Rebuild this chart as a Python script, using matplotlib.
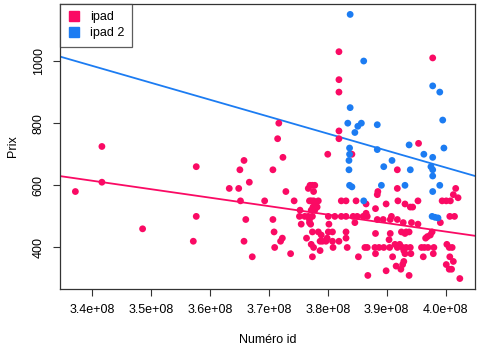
import numpy as np
import matplotlib
matplotlib.use("Agg")
import matplotlib.pyplot as plt
from matplotlib.lines import Line2D

plt.rcParams['font.family'] = ['Liberation Sans', 'DejaVu Sans']

# ---------------------------------------------------------------------------
# data (id in millions, price)
# ---------------------------------------------------------------------------
ipad_id = [
    337.2, 341.7, 341.7, 348.6, 357.7, 357.7, 357.2,
    365.8, 365.1, 370.7, 372.4, 371.7, 371.5, 363.3,
    364.9, 366.7, 365.2, 366.1, 365.8, 367.2, 369.3, 370.7, 370.9, 371.0,
    372.3, 372.0, 372.9, 373.7, 374.3, 375.3, 375.2, 375.5, 376.1, 376.4,
    376.7, 376.7, 377.0, 377.4, 377.8, 377.6, 376.9, 377.2, 377.6, 378.4,
    378.0, 377.5, 378.2, 377.8, 377.2, 377.4, 376.9, 376.9, 377.1, 377.4,
    378.4, 378.9, 377.2, 377.6, 377.4, 378.7, 378.7, 379.1, 379.9, 379.7,
    380.8, 380.1, 380.1, 380.8, 380.2, 381.2, 380.9, 381.9, 382.3, 383.1,
    382.3, 383.1, 383.1, 383.1, 383.3, 384.3, 385.0, 384.6, 384.8, 385.2,
    386.0, 386.5, 386.7, 386.5, 386.3, 386.7, 386.8, 388.1, 388.1, 388.1,
    388.0, 388.5, 388.4, 388.4, 388.7, 389.4, 389.5, 389.9, 389.9, 390.4,
    390.5, 390.8, 390.6, 390.6, 391.0, 391.4, 391.8, 392.2, 391.8, 391.9,
    391.8, 391.6, 392.4, 392.5, 392.7, 392.7, 392.9, 392.9, 393.1, 393.1,
    393.3, 393.8, 393.1, 392.8, 393.3, 394.0, 394.4, 394.0, 394.1, 393.8,
    394.2, 395.3, 395.3, 395.9, 396.2, 396.4, 397.0, 396.6, 396.9, 397.4,
    397.7, 398.0, 397.9, 399.1, 399.4, 400.1, 400.8, 400.7, 401.5, 401.7,
    401.3, 402.1, 400.2, 400.6, 401.1, 400.7, 400.1, 400.6, 401.3, 401.0,
    402.4,
    380.0, 384.1, 381.9, 381.9, 381.9, 381.9, 381.9, 391.8, 395.4, 397.8,
]
ipad_prix = [
    580, 725, 610, 460, 660, 500, 420,
    680, 650, 650, 690, 800, 750, 590,
    590, 610, 550, 490, 420, 370, 550, 490, 450, 400,
    430, 420, 580, 380, 550, 520, 500, 475, 500, 430,
    500, 590, 600, 600, 600, 580, 550, 550, 550, 550,
    540, 530, 530, 520, 520, 500, 490, 480, 475, 450,
    450, 440, 410, 400, 370, 390, 420, 420, 430, 420,
    420, 500, 450, 450, 475, 500, 400, 420, 550, 550,
    500, 500, 450, 430, 400, 500, 500, 480, 550, 370,
    500, 510, 500, 540, 400, 400, 310, 525, 445, 380,
    400, 580, 570, 490, 400, 490, 400, 540, 325, 425,
    400, 500, 490, 445, 370, 410, 400, 410, 590, 550,
    490, 340, 330, 450, 400, 345, 355, 390, 380, 540,
    450, 450, 445, 480, 400, 530, 530, 400, 380, 310,
    480, 550, 475, 400, 370, 400, 400, 430, 435, 440,
    450, 400, 380, 480, 550, 550, 550, 500, 500, 590,
    570, 560, 410, 400, 400, 370, 345, 330, 355, 330,
    300,
    700, 700, 1030, 940, 900, 775, 750, 650, 735, 1010,
]

ipad2_id = [
    383.8, 386.1, 383.8, 383.4, 385.1, 385.7, 388.4, 384.6, 383.7, 383.7,
    383.6, 383.6, 383.7, 384.1, 388.4, 389.5, 390.9, 394.0, 393.8, 396.3,
    397.8, 397.5, 397.8, 397.8, 397.8, 399.0, 399.5, 399.7, 399.0, 389.1,
    393.1, 397.8, 397.7, 398.2, 398.7, 386.1,
]
ipad2_prix = [
    1150, 1000, 850, 800, 790, 800, 795, 770, 720, 700,
    680, 650, 600, 595, 715, 660, 680, 650, 730, 700,
    690, 660, 650, 630, 920, 900, 810, 720, 600, 600,
    600, 580, 500, 497, 495, 550,
]

# regression lines: value at id = 370 M, and slope per M
fit_at_370 = [533, 821]
fit_slope = [-2.73, -5.46]

series = ['ipad', 'ipad 2']
colors = ['#FA0A64', '#1C7CF2']
xticks = [340, 350, 360, 370, 380, 390, 400]
xticklabels = ['3.4e+08', '3.5e+08', '3.6e+08', '3.7e+08', '3.8e+08', '3.9e+08', '4.0e+08']
yticks = [400, 600, 800, 1000]

# ---------------------------------------------------------------------------
# plot
# ---------------------------------------------------------------------------
fig = plt.figure(figsize=(4.8, 3.5), dpi=100)
ax = fig.add_axes([0.125, 0.174, 0.865, 0.815])

groups = [(ipad_id, ipad_prix), (ipad2_id, ipad2_prix)]
for (xs, ys), c in zip(groups, colors):
    ax.scatter(xs, ys, s=24, color=c, edgecolors='none', zorder=3)

all_x = np.array(ipad_id + ipad2_id)
all_y = np.array(ipad_prix + ipad2_prix)
xspan = all_x.max() - all_x.min()
yspan = all_y.max() - all_y.min()
ax.set_xlim(all_x.min() - 0.04 * xspan, all_x.max() + 0.04 * xspan)
ax.set_ylim(all_y.min() - 0.04 * yspan, all_y.max() + 0.04 * yspan)

# abline style regression lines
for y370, b, c in zip(fit_at_370, fit_slope, colors):
    ax.axline((370, y370), slope=b, color=c, lw=1.3, zorder=2)

ax.set_xticks(xticks)
ax.set_xticklabels(xticklabels)
ax.set_yticks(yticks)
ax.set_yticklabels([str(v) for v in yticks], rotation=90, va='center')
ax.tick_params(direction='out', length=5, width=0.8, labelsize=9, pad=6, color='#333333')
for sp in ax.spines.values():
    sp.set_linewidth(0.9)
    sp.set_color('#333333')

ax.set_xlabel('Numéro id', fontsize=9, labelpad=13)
ax.set_ylabel('Prix', fontsize=9, labelpad=10)

handles = [Line2D([0], [0], marker='s', ls='none', color=c, markersize=7) for c in colors]
leg = ax.legend(handles, series, loc='upper left', fontsize=9, frameon=True, fancybox=False,
                borderaxespad=0, handlelength=1.0, handletextpad=0.8, borderpad=0.6,
                labelspacing=0.3)
leg.get_frame().set_edgecolor('#333333')
leg.get_frame().set_linewidth(0.9)

fig.savefig('out.png', dpi=100)
